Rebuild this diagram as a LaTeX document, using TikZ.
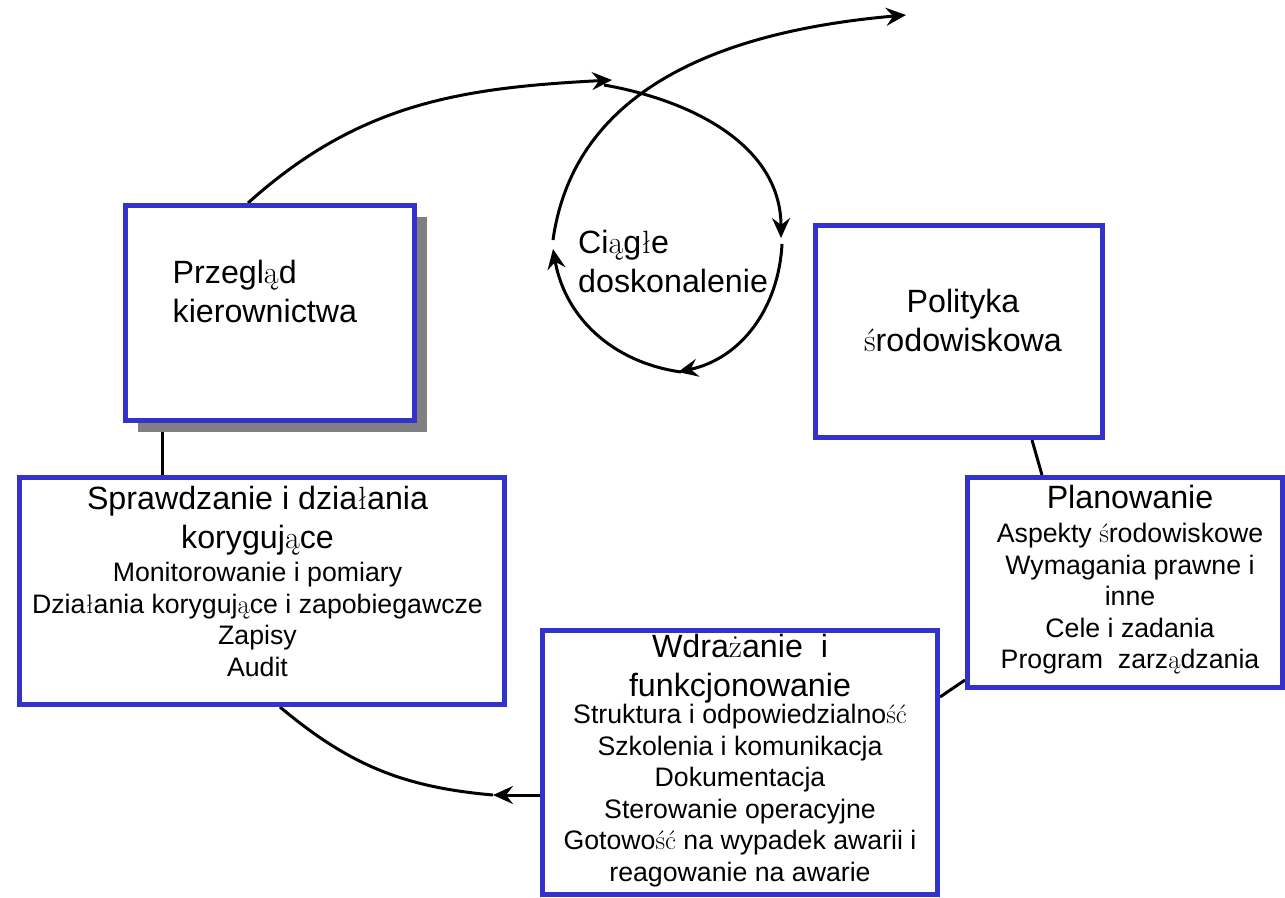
\documentclass[tikz,border=0pt]{standalone}
\usepackage{fontspec}
\newfontfamily\arialf{Liberation Sans}
\usetikzlibrary{positioning,shadows,arrows.meta,backgrounds}
\definecolor{boxblue}{RGB}{51,51,204}
\newcommand\pl[1]{{\rmfamily #1}}
\tikzset{
  stagebox/.style={draw=boxblue, line width=5pt, fill=white, inner sep=0pt},
  loopline/.style={draw=black, line width=3pt},
  flowtip/.style={-{Stealth[length=20pt,width=18pt,inset=7pt]}},
  headtxt/.style={font=\arialf\fontsize{32.2}{39}\selectfont, inner sep=0pt, align=center},
  itemtxt/.style={font=\arialf\fontsize{26.7}{31.6}\selectfont, inner sep=0pt, align=center},
}
\begin{document}
\begin{tikzpicture}[x=1pt,y=1pt]
	\useasboundingbox (0,0) rectangle (1285,-897);
	% stages of the cycle
	\node[stagebox, minimum width=289pt, minimum height=215pt,
	      drop shadow={shadow xshift=12pt, shadow yshift=-11pt, fill=black!50, opacity=1}] (rev) at (270,-313) {};
	\node[stagebox, minimum width=287pt, minimum height=212pt] (pol) at (959,-331.5) {};
	\node[stagebox, minimum width=315pt, minimum height=210pt] (plan) at (1125,-582.5) {};
	\node[stagebox, minimum width=485pt, minimum height=227pt] (chk) at (262,-591) {};
	\node[stagebox, minimum width=395pt, minimum height=264pt] (impl) at (740,-762.5) {};
	% texts
	\node[headtxt, align=left, below right=56.8pt and 49.5pt of rev.north west] (revt) {Przegl\pl{ą}d\\kierownictwa};
	\node[headtxt, below=65.8pt of pol.north, xshift=4pt] (polt) {Polityka\\\pl{ś}rodowiskowa};
	\node[headtxt, below=9.8pt of plan.north, xshift=5pt] (plant) {Planowanie};
	\node[itemtxt, below=47.9pt of plan.north, xshift=5pt] (plani) {Aspekty \pl{ś}rodowiskowe\\Wymagania prawne i\\inne\\Cele i zadania\\Program\ \ zarz\pl{ą}dzania};
	\node[headtxt, below=10.8pt of chk.north, xshift=-4.5pt] (chkt) {Sprawdzanie i dzia\pl{ł}ania\\koryguj\pl{ą}ce};
	\node[itemtxt, below=86.9pt of chk.north, xshift=-4.5pt] (chki) {Monitorowanie i pomiary\\Dzia\pl{ł}ania koryguj\pl{ą}ce i zapobiegawcze\\Zapisy\\Audit};
	\node[headtxt, below=5.8pt of impl.north] (implt) {Wdra\pl{ż}anie\ \ i\\funkcjonowanie};
	\node[itemtxt, below=75.9pt of impl.north] (impli) {Struktura i odpowiedzialno\pl{ść}\\Szkolenia i komunikacja\\Dokumentacja\\Sterowanie operacyjne\\Gotowo\pl{ść} na wypadek awarii i\\reagowanie na awarie};
	\node[headtxt, align=left, anchor=north west] (ci) at (578,-229.5) {Ci\pl{ą}g\pl{ł}e\\doskonalenie};
	% points of the spiral
	\coordinate (sa) at (612,-80);
	\coordinate (sb) at (604,-85);
	\coordinate (sc) at (781,-238);
	\coordinate (sd) at (782,-244);
	\coordinate (se) at (678,-372);
	\coordinate (sf) at (681,-372);
	\coordinate (sg) at (553,-249);
	\coordinate (sh) at (553,-240);
	\coordinate (si) at (906,-15);
	\coordinate (bt) at (493,-795);
	\begin{scope}[on background layer]
		\draw[loopline, flowtip] ([xshift=-22pt]rev.north) to[out=42,in=183] (sa);
		\draw[loopline, flowtip] (sb) to[out=-10,in=90] (sc);
		\draw[loopline, flowtip] (sd) to[out=-93,in=12] (se);
		\draw[loopline, flowtip] (sf) to[out=172,in=-80] (sg);
		\draw[loopline, flowtip] (sh) to[out=82,in=185] (si);
		\draw[loopline] ([xshift=-108pt]rev.south) -- ([xshift=-100pt]chk.north);
		\draw[loopline] ([xshift=73pt]pol.south) -- ([xshift=-83pt]plan.north);
		\draw[loopline] ([yshift=-97.5pt]plan.west) -- ([yshift=65.5pt]impl.east);
		\draw[loopline, flowtip] ([yshift=-32.5pt]impl.west) -- (bt);
		\draw[loopline] (bt) to[out=175,in=-40] ([xshift=18pt]chk.south);
	\end{scope}
\end{tikzpicture}
\end{document}
